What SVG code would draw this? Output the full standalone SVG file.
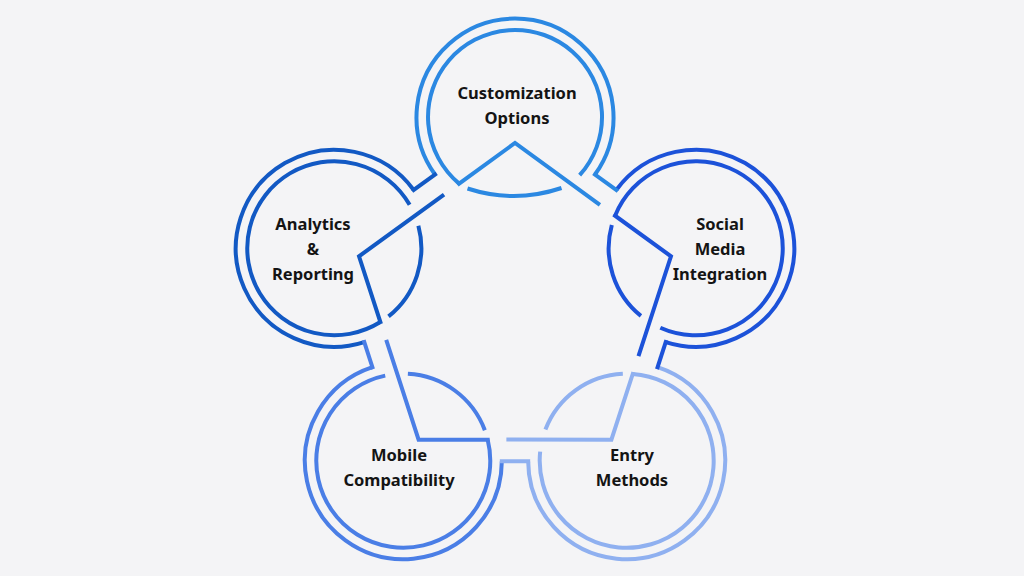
<svg xmlns="http://www.w3.org/2000/svg" xmlns:xlink="http://www.w3.org/1999/xlink" width="1024" height="576" viewBox="0 0 1024 576">
<style>
.ring path{fill:none;stroke-width:4}
.conn{fill:none;stroke-width:4;stroke-linecap:square;stroke-linejoin:miter}
.lbl{font-family:"Noto Sans","Liberation Sans",sans-serif;font-weight:700;font-size:16.5px;fill:#141414;text-anchor:middle;stroke:none}
.cC{stroke:#2b88e2}
.cS{stroke:#1c52d9}
.cE{stroke:#8fb0f0}
.cM{stroke:#4a7ee6}
.cA{stroke:#1259c4}
</style>
<defs>
<g id="ringShape" class="ring">
<path d="M435.0 174.5 A98.5 98.5 0 1 1 595.0 174.5"/>
<path d="M579.65 175.2 A87 87 0 1 0 459.1 183.6"/>
<path d="M562.4 190.0 A87 87 0 0 1 467.0 189.6"/>
</g>
<g id="connShape">
<path d="M595.0 174.5 L616.3 190.0"/>
<path d="M459.1 183.6 L515 143 L598.3 203.6"/>
</g>
</defs>
<rect width="1024" height="576" fill="#f4f4f6"/>
<g id="node-customization">
<g class="ring cC">
<path d="M435.0 174.5 A98.5 98.5 0 1 1 595.0 174.5"/>
<path d="M579.65 175.2 A87 87 0 1 0 459.1 183.6"/>
<path d="M561.5 188.0 A150 150 0 0 1 467.5 188.5"/>
</g>
<text class="lbl" x="517" y="99">Customization</text>
<text class="lbl" x="517" y="124">Options</text>
</g>
<g id="node-social">
<use href="#ringShape" class="cS" transform="rotate(72 515 307)"/>
<text class="lbl" x="720" y="230">Social</text>
<text class="lbl" x="720" y="255">Media</text>
<text class="lbl" x="720" y="280">Integration</text>
</g>
<g id="node-entry">
<use href="#ringShape" class="cE" transform="rotate(144 515 307)"/>
<text class="lbl" x="632" y="461">Entry</text>
<text class="lbl" x="632" y="486">Methods</text>
</g>
<g id="node-mobile">
<use href="#ringShape" class="cM" transform="rotate(216 515 307)"/>
<text class="lbl" x="399" y="461">Mobile</text>
<text class="lbl" x="399" y="486">Compatibility</text>
</g>
<g id="node-analytics">
<use href="#ringShape" class="cA" transform="rotate(288 515 307)"/>
<text class="lbl" x="313" y="230">Analytics</text>
<text class="lbl" x="313" y="255">&amp;</text>
<text class="lbl" x="313" y="280">Reporting</text>
</g>
<g id="connectors">
<use href="#connShape" class="conn cC"/>
<use href="#connShape" class="conn cS" transform="rotate(72 515 307)"/>
<use href="#connShape" class="conn cE" transform="rotate(144 515 307)"/>
<use href="#connShape" class="conn cM" transform="rotate(216 515 307)"/>
<use href="#connShape" class="conn cA" transform="rotate(288 515 307)"/>
</g>
</svg>
